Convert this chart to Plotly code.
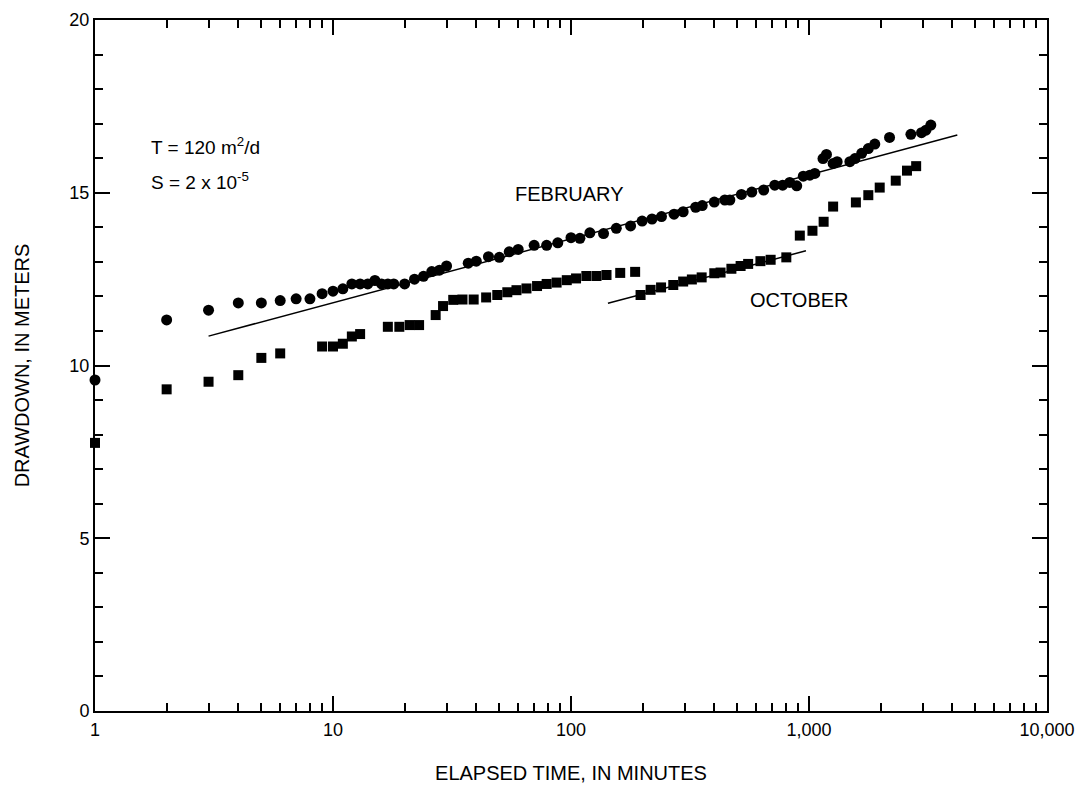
import plotly.graph_objects as go

# February drawdown (circles)
feb_time = [1, 2, 3, 4, 5, 6, 7, 8, 9, 10, 11, 12, 13, 14, 15, 16, 17, 18, 20, 22,
            24, 26, 28, 30, 37, 40, 45, 50, 55, 60, 70, 79, 88, 100, 109, 120, 137,
            155, 178, 199, 219, 240, 271, 296, 334, 356, 400, 443, 465, 520, 575,
            645, 718, 775, 830, 888, 946, 1008, 1058, 1145, 1184, 1263, 1313, 1485,
            1560, 1665, 1775, 1890, 2180, 2680, 2970, 3100, 3250]
feb_drawdown = [9.58, 11.32, 11.6, 11.81, 11.81, 11.88, 11.93, 11.93, 12.08, 12.15,
                12.22, 12.36, 12.36, 12.36, 12.46, 12.36, 12.36, 12.36, 12.36, 12.5,
                12.58, 12.72, 12.76, 12.88, 12.96, 13.02, 13.15, 13.13, 13.29, 13.36,
                13.48, 13.48, 13.55, 13.7, 13.68, 13.84, 13.82, 13.97, 14.04, 14.18,
                14.24, 14.31, 14.38, 14.45, 14.58, 14.63, 14.73, 14.79, 14.79, 14.95,
                15.02, 15.08, 15.22, 15.22, 15.3, 15.2, 15.48, 15.51, 15.56, 15.99,
                16.11, 15.85, 15.9, 15.9, 15.99, 16.14, 16.28, 16.41, 16.6, 16.69,
                16.74, 16.81, 16.96]

# October drawdown (squares)
oct_time = [1, 2, 3, 4, 5, 6, 9, 10, 11, 12, 13, 17, 19, 21, 23, 27, 29, 32, 35, 39,
            44, 49, 54, 59, 65, 72, 79, 87, 96, 105, 116, 128, 141, 161, 186, 196,
            216, 239, 269, 296, 322, 354, 400, 425, 472, 516, 555, 625, 690, 803,
            915, 1034, 1152, 1263, 1574, 1775, 1982, 2315, 2580, 2820]
oct_drawdown = [7.76, 9.31, 9.53, 9.72, 10.22, 10.35, 10.55, 10.55, 10.63, 10.84,
                10.91, 11.12, 11.12, 11.17, 11.17, 11.46, 11.72, 11.9, 11.91, 11.91,
                11.97, 12.04, 12.12, 12.18, 12.23, 12.3, 12.36, 12.4, 12.47, 12.52,
                12.59, 12.59, 12.62, 12.68, 12.71, 12.04, 12.19, 12.26, 12.33, 12.43,
                12.49, 12.55, 12.67, 12.69, 12.8, 12.88, 12.94, 13.02, 13.06, 13.13,
                13.76, 13.9, 14.16, 14.6, 14.72, 14.93, 15.15, 15.35, 15.64, 15.77]

# Straight-line fits (Cooper-Jacob)
feb_fit_time = [3, 4200]
feb_fit_drawdown = [10.85, 16.67]
oct_fit_time = [143, 971]
oct_fit_drawdown = [11.8, 13.32]

x_tick_vals = [1, 10, 100, 1000, 10000]
x_tick_text = ["1", "10", "100", "1,000", "10,000"]
x_minor_vals = [m * 10 ** d for d in range(4) for m in range(2, 10)]
y_tick_vals = [0, 5, 10, 15, 20]

FONT = "Liberation Sans, Arial, sans-serif"

fig = go.Figure()
fig.add_trace(go.Scatter(x=feb_fit_time, y=feb_fit_drawdown, mode="lines",
                         line=dict(color="black", width=1.5), showlegend=False))
fig.add_trace(go.Scatter(x=oct_fit_time, y=oct_fit_drawdown, mode="lines",
                         line=dict(color="black", width=1.5), showlegend=False))
fig.add_trace(go.Scatter(x=feb_time, y=feb_drawdown, mode="markers",
                         marker=dict(symbol="circle", size=11, color="black"),
                         cliponaxis=False, showlegend=False))
fig.add_trace(go.Scatter(x=oct_time, y=oct_drawdown, mode="markers",
                         marker=dict(symbol="square", size=10, color="black"),
                         cliponaxis=False, showlegend=False))

fig.add_annotation(x=0.225, y=16.36, xref="x", yref="y", text="T = 120 m<sup>2</sup>/d",
                   showarrow=False, xanchor="left", yanchor="middle",
                   font=dict(family=FONT, size=19, color="black"))
fig.add_annotation(x=0.225, y=15.34, xref="x", yref="y", text="S = 2 x 10<sup>-5</sup>",
                   showarrow=False, xanchor="left", yanchor="middle",
                   font=dict(family=FONT, size=19, color="black"))
fig.add_annotation(x=1.993, y=14.96, xref="x", yref="y", text="FEBRUARY",
                   showarrow=False, font=dict(family=FONT, size=20, color="black"))
fig.add_annotation(x=2.962, y=11.9, xref="x", yref="y", text="OCTOBER",
                   showarrow=False, font=dict(family=FONT, size=20, color="black"))

fig.update_layout(
    width=1081, height=785,
    margin=dict(l=95, r=34, t=20, b=74),
    paper_bgcolor="white", plot_bgcolor="white",
    font=dict(family=FONT, size=18, color="black"),
    hovermode=False,
    xaxis=dict(
        type="log", range=[0, 4], automargin=False,
        tickmode="array", tickvals=x_tick_vals, ticktext=x_tick_text,
        ticks="inside", ticklen=15, tickwidth=1.5, tickcolor="black",
        minor=dict(tickmode="array", tickvals=x_minor_vals, ticks="inside",
                   ticklen=8, tickwidth=1.5, tickcolor="black", showgrid=False),
        showline=True, linewidth=2, linecolor="black", mirror="ticks",
        showgrid=False, zeroline=False, ticklabelstandoff=1,
        title=dict(text="ELAPSED TIME, IN MINUTES", standoff=27,
                   font=dict(family=FONT, size=20)),
    ),
    yaxis=dict(
        range=[0, 20], automargin=False,
        tickmode="array", tickvals=y_tick_vals,
        ticks="inside", ticklen=15, tickwidth=1.5, tickcolor="black",
        minor=dict(dtick=1, ticks="inside", ticklen=8, tickwidth=1.5,
                   tickcolor="black", showgrid=False),
        showline=True, linewidth=2, linecolor="black", mirror="ticks",
        showgrid=False, zeroline=False,
        title=dict(text="DRAWDOWN, IN METERS", standoff=34,
                   font=dict(family=FONT, size=20)),
    ),
)

fig.write_html(
    "out.html",
    config={"displayModeBar": False},
    post_script="document.body.style.margin='0';document.body.style.overflow='hidden';",
)
